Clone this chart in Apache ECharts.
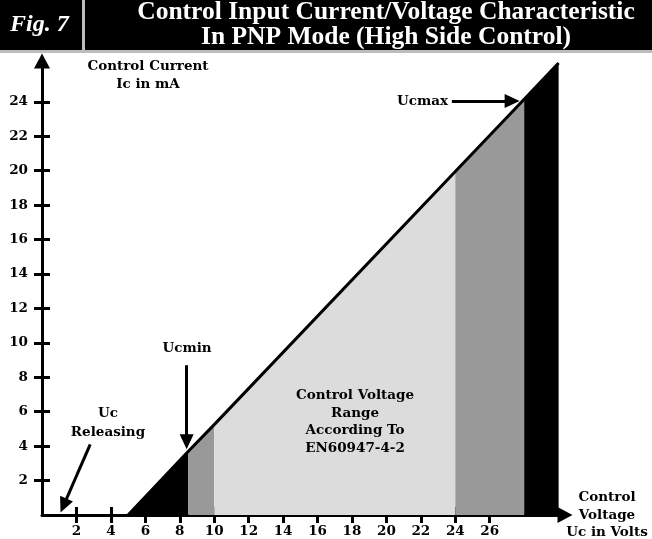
<!DOCTYPE html>
<html>
<head>
<meta charset="utf-8">
<script src="https://cdn.jsdelivr.net/npm/echarts@6/dist/echarts.min.js"></script>
<style>
    * { margin: 0; padding: 0; }
    body { background: #fff; }
</style>
</head>
<body>
<div id="myEchArt" style="width:652px;height:539px;"></div>
<script>
    // tick labels
    const xTicks = [2, 4, 6, 8, 10, 12, 14, 16, 18, 20, 22, 24, 26];
    const yTicks = [2, 4, 6, 8, 10, 12, 14, 16, 18, 20, 22, 24];
    // band edges along the characteristic: Uc (V) and Ic (mA)
    const edgeVoltage = [5, 8.5, 10, 24, 28, 30];
    const edgeCurrent = [0, 3.7, 5.25, 19.95, 24.15, 26.25];
    // annotation arrows (from, to) in volts / mA
    const arrowUcmax = [[23.8, 24.05], [27.3, 24.05]];
    const arrowUcmin = [[8.4, 8.7], [8.4, 4.25]];
    const arrowRelease = [[2.8, 4.1], [1.25, 0.55]];

    const bandColors = ['#000000', '#999999', '#dcdcdc', '#999999', '#000000'];
    const labelFont = 'bold 13.5px "DejaVu Serif"';

    let myChart = echarts.init(document.getElementById('myEchArt'));

    let series = [];
    for (let i = 0; i < edgeVoltage.length - 1; i++) {
        series.push({
            type: 'line',
            symbol: 'none',
            lineStyle: { width: 0 },
            areaStyle: { color: bandColors[i], opacity: 1 },
            data: [[edgeVoltage[i], edgeCurrent[i]], [edgeVoltage[i + 1], edgeCurrent[i + 1]]],
            z: 2
        });
    }
    series.push({
        type: 'line',
        symbol: 'none',
        lineStyle: { color: '#000', width: 3 },
        data: edgeVoltage.map((v, i) => [v, edgeCurrent[i]]),
        z: 3,
        markLine: {
            silent: true,
            symbol: ['none', 'triangle'],
            symbolSize: [14, 15],
            lineStyle: { color: '#000', width: 3, type: 'solid' },
            label: { show: false },
            data: [arrowUcmax, arrowUcmin, arrowRelease].map(a => [{ coord: a[0] }, { coord: a[1] }])
        }
    });

    const axisBase = {
        type: 'value',
        min: 0,
        splitLine: { show: false },
        axisLine: {
            lineStyle: { color: '#000', width: 3 },
            symbol: ['none', 'triangle'],
            symbolSize: [16, 15]
        }
    };
    const tickLabel = { margin: 9, color: '#000', fontFamily: 'DejaVu Serif', fontWeight: 'bold', fontSize: 13.5 };

    let option = {
        animation: false,
        backgroundColor: '#fff',
        grid: { left: 42, right: 87, top: 61, bottom: 24 },
        xAxis: [
            Object.assign({}, axisBase, {
                max: 30.37,
                axisTick: { customValues: xTicks, length: 8, lineStyle: { width: 3, color: '#000' } },
                axisLabel: Object.assign({ customValues: xTicks }, tickLabel)
            }),
            {
                type: 'value', min: 0, max: 30.37, position: 'bottom',
                splitLine: { show: false }, axisLine: { show: false }, axisLabel: { show: false },
                axisTick: { customValues: xTicks, inside: true, length: 8, lineStyle: { width: 3, color: '#000' } }
            }
        ],
        yAxis: [
            Object.assign({}, axisBase, {
                max: 26.37,
                axisTick: { customValues: yTicks, length: 8, lineStyle: { width: 3, color: '#000' } },
                axisLabel: Object.assign({ customValues: yTicks }, tickLabel, { margin: 14 })
            }),
            {
                type: 'value', min: 0, max: 26.37, position: 'left',
                splitLine: { show: false }, axisLine: { show: false }, axisLabel: { show: false },
                axisTick: { customValues: yTicks, inside: true, length: 8, lineStyle: { width: 3, color: '#000' } }
            }
        ],
        graphic: [
            // header band
            { type: 'rect', z: 100, shape: { x: 0, y: 0, width: 652, height: 50 }, style: { fill: '#000' } },
            { type: 'rect', z: 100, shape: { x: 0, y: 50, width: 652, height: 3 }, style: { fill: '#bdbdbd' } },
            { type: 'rect', z: 100, shape: { x: 82, y: 0, width: 3, height: 50 }, style: { fill: '#bdbdbd' } },
            { type: 'text', z: 101, style: { text: 'Fig. 7', x: 10, y: 25, fill: '#fff', textVerticalAlign: 'middle',
                font: 'italic bold 24px "Liberation Serif"' } },
            { type: 'text', z: 101, style: { text: 'Control Input Current/Voltage Characteristic\nIn PNP Mode (High Side Control)',
                x: 386, y: 25, fill: '#fff', textAlign: 'center', textVerticalAlign: 'middle', lineHeight: 25,
                font: 'bold 25.5px "Liberation Serif"' } },
            // annotations
            { type: 'text', z: 100, style: { text: 'Control Current\nIc in mA', x: 148, y: 75, textAlign: 'center', textVerticalAlign: 'middle', lineHeight: 18, font: labelFont, fill: '#000' } },
            { type: 'text', z: 100, style: { text: 'Ucmax', x: 397, y: 101, textVerticalAlign: 'middle', font: labelFont, fill: '#000' } },
            { type: 'text', z: 100, style: { text: 'Ucmin', x: 187, y: 348, textAlign: 'center', textVerticalAlign: 'middle', font: labelFont, fill: '#000' } },
            { type: 'text', z: 100, style: { text: 'Uc\nReleasing', x: 108, y: 423, textAlign: 'center', textVerticalAlign: 'middle', lineHeight: 19, font: labelFont, fill: '#000' } },
            { type: 'text', z: 100, style: { text: 'Control Voltage\nRange\nAccording To\nEN60947-4-2', x: 355, y: 422, textAlign: 'center', textVerticalAlign: 'middle', lineHeight: 17.5, font: labelFont, fill: '#000' } },
            { type: 'text', z: 100, style: { text: 'Control\nVoltage\nUc in Volts', x: 607, y: 515, textAlign: 'center', textVerticalAlign: 'middle', lineHeight: 17.5, font: labelFont, fill: '#000' } }
        ],
        series: series
    };
    myChart.setOption(option);
</script>
</body>
</html>
